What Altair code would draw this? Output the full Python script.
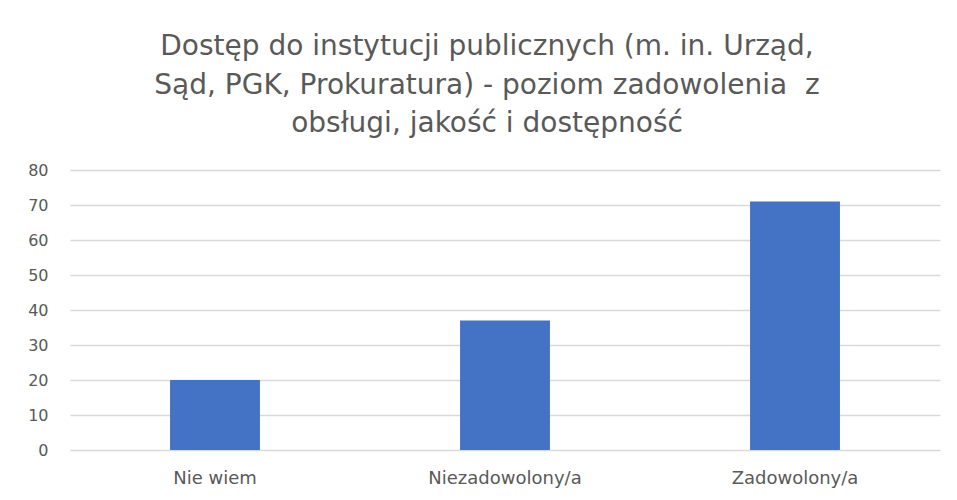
import altair as alt
import pandas as pd

categories = ["Nie wiem", "Niezadowolony/a", "Zadowolony/a"]
values = [20, 37, 71]
y_ticks = [0, 10, 20, 30, 40, 50, 60, 70, 80]
title_lines = [
    "Dostęp do instytucji publicznych (m. in. Urząd,",
    "Sąd, PGK, Prokuratura) - poziom zadowolenia\u00a0 z",
    "obsługi, jakość i dostępność",
]

df = pd.DataFrame({"kategoria": categories, "wartosc": values})

chart = (
    alt.Chart(df)
    .mark_bar(color="#4472C4")
    .encode(
        x=alt.X(
            "kategoria:N",
            sort=categories,
            title=None,
            scale=alt.Scale(paddingInner=0.69, paddingOuter=0.345),
            axis=alt.Axis(
                labelAngle=0,
                labelFont="DejaVu Sans",
                labelFontSize=18,
                labelColor="#595959",
                labelPadding=19,
                ticks=False,
                domain=False,
                grid=False,
            ),
        ),
        y=alt.Y(
            "wartosc:Q",
            title=None,
            scale=alt.Scale(domain=[0, 80], nice=False),
            axis=alt.Axis(
                values=y_ticks,
                labelFont="DejaVu Sans",
                labelFontSize=16,
                labelColor="#595959",
                labelPadding=22,
                ticks=False,
                domain=False,
                grid=True,
                gridColor="#D9D9D9",
                gridWidth=1.3,
            ),
        ),
    )
    .properties(
        width=870,
        height=280,
        background="white",
        autosize=alt.AutoSizeParams(type="none"),
        padding={"left": 62, "top": 162, "right": 9, "bottom": 42},
        title=alt.TitleParams(
            text=title_lines,
            font="DejaVu Sans",
            fontSize=28,
            fontWeight="normal",
            color="#595959",
            lineHeight=38.5,
            anchor="middle",
            dx=-18,
            offset=24,
        ),
    )
    .configure_view(strokeWidth=0, stroke="transparent")
)

chart.save("out.html", embed_options={"renderer": "svg", "actions": False})
